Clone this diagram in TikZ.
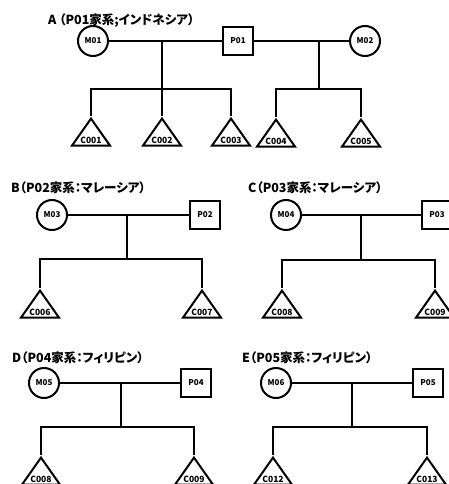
\documentclass[tikz,border=0pt]{standalone}
\usepackage{fontspec}
\setmainfont{Noto Sans CJK JP}
\newfontfamily\ttlfont[RawFeature={+palt}]{Noto Sans CJK JP}
\usetikzlibrary{shapes.geometric}
\begin{document}
\begin{tikzpicture}[x=1pt, y=-1pt,
  link/.style={line width=2.5pt},
  female/.style={circle, draw, line width=2pt, minimum size=30pt, inner sep=0pt,
    font=\fontsize{8}{9}\selectfont\bfseries},
  male/.style={rectangle, draw, line width=2pt, minimum width=30pt, minimum height=28pt,
    inner sep=0pt, font=\fontsize{8}{9}\selectfont\bfseries},
  kid/.style={isosceles triangle, isosceles triangle stretches, shape border rotate=90,
    draw, line width=2pt, minimum width=38pt, minimum height=27pt, inner sep=0pt,
    anchor=apex,
    label={[anchor=south, inner sep=0pt, yshift=2.6pt,
      font=\fontsize{8.5}{9}\selectfont\bfseries]south:#1}},
  ttl/.style={anchor=west, inner sep=0pt, font=\ttlfont\fontsize{12.5}{14}\selectfont\bfseries}]
\useasboundingbox[fill=white] (0,0) rectangle (449,484);

% ---------- A: P01 family ----------
\node[ttl] (tA) at (48,21) {A （P01家系;インドネシア）};
\node[female] (m01) at (93,41) {M01};
\node[male]   (p01) at (238,41) {P01};
\node[female] (m02) at (365,41) {M02};
\coordinate (a1) at (162,41);
\coordinate (a1b) at (162,89);
\coordinate (a2) at (319,41);
\coordinate (a2b) at (319,89);
\node[kid=C001] (c001) at (91,116) {};
\node[kid=C002] (c002) at (162,116) {};
\node[kid=C003] (c003) at (231,116) {};
\node[kid=C004] (c004) at (276,117) {};
\node[kid=C005] (c005) at (361,117) {};
\draw[link] (m01) -- (p01);
\draw[link] (p01) -- (m02);
\draw[link] (a1) -- (a1b);
\draw[link] (c001.apex) |- (a1b) -| (c003.apex);
\draw[link] (c002.apex) -- (a1b);
\draw[link] (a2) -- (a2b);
\draw[link] (c004.apex) |- (a2b) -| (c005.apex);

% ---------- B: P02 family ----------
\node[ttl] (tB) at (11,188) {B（P02家系：マレーシア）};
\node[female] (m03) at (52,215) {M03};
\node[male]   (p02) at (205,215) {P02};
\coordinate (b1) at (127,215);
\coordinate (b1b) at (127,259);
\node[kid=C006] (c006) at (40,288) {};
\node[kid=C007] (c007) at (202,288) {};
\draw[link] (m03) -- (p02);
\draw[link] (b1) -- (b1b);
\draw[link] (c006.apex) |- (b1b) -| (c007.apex);

% ---------- C: P03 family ----------
\node[ttl] (tC) at (248,188) {C（P03家系：マレーシア）};
\node[female] (m04) at (286,215) {M04};
\node[male]   (p03) at (437,215) {P03};
\coordinate (k1) at (361,215);
\coordinate (k1b) at (361,260);
\node[kid=C008] (cc008) at (282,288) {};
\node[kid=C009] (cc009) at (435,288) {};
\draw[link] (m04) -- (p03);
\draw[link] (k1) -- (k1b);
\draw[link] (cc008.apex) |- (k1b) -| (cc009.apex);

% ---------- D: P04 family ----------
\node[ttl] (tD) at (12,358) {D（P04家系：フィリピン）};
\node[female] (m05) at (44,383) {M05};
\node[male]   (p04) at (196,383) {P04};
\coordinate (d1) at (121,383);
\coordinate (d1b) at (121,427);
\node[kid=C008] (dc008) at (41,455) {};
\node[kid=C009] (dc009) at (194,455) {};
\draw[link] (m05) -- (p04);
\draw[link] (d1) -- (d1b);
\draw[link] (dc008.apex) |- (d1b) -| (dc009.apex);

% ---------- E: P05 family ----------
\node[ttl] (tE) at (242,358) {E（P05家系：フィリピン）};
\node[female] (m06) at (276,383) {M06};
\node[male]   (p05) at (428,383) {P05};
\coordinate (e1) at (352,383);
\coordinate (e1b) at (352,427);
\node[kid=C012] (c012) at (273,455) {};
\node[kid=C013] (c013) at (427,455) {};
\draw[link] (m06) -- (p05);
\draw[link] (e1) -- (e1b);
\draw[link] (c012.apex) |- (e1b) -| (c013.apex);
\end{tikzpicture}
\end{document}
